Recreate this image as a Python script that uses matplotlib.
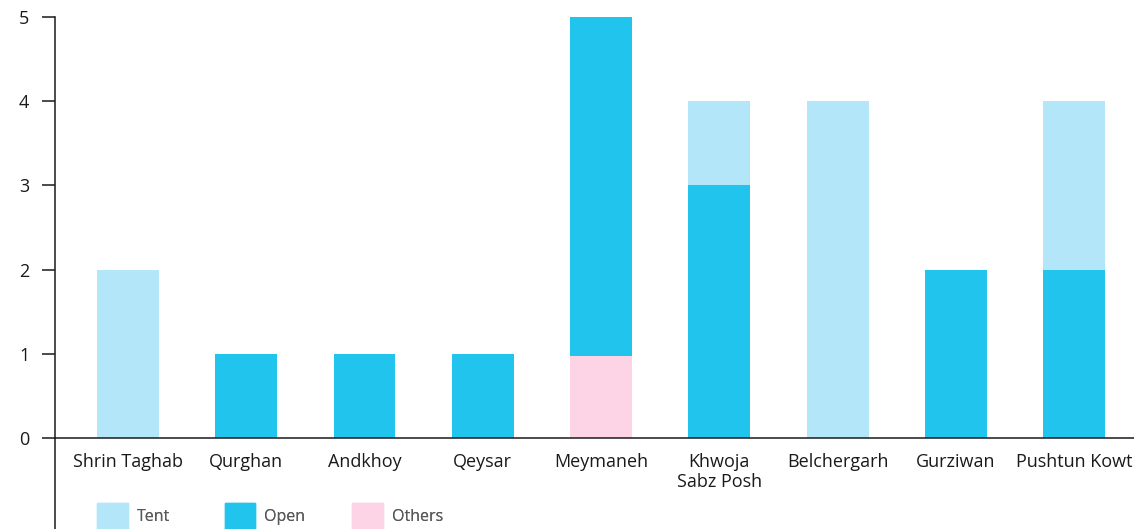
import matplotlib
matplotlib.use("Agg")
import matplotlib.pyplot as plt
from matplotlib.patches import Patch
import numpy as np

plt.rcParams['font.family'] = ['Open Sans', 'DejaVu Sans']

categories = ["Shrin Taghab", "Qurghan", "Andkhoy", "Qeysar", "Meymaneh",
              "Khwoja\nSabz Posh", "Belchergarh", "Gurziwan", "Pushtun Kowt"]
others = [0, 0, 0, 0, 0.97, 0, 0, 0, 0]
open_ = [0, 1, 1, 1, 4.03, 3, 0, 2, 2]
tent = [2, 0, 0, 0, 0, 1, 4, 0, 2]
yticks = [0, 1, 2, 3, 4, 5]
legend_labels = ["Tent", "Open", "Others"]

c_tent = "#B3E6F8"
c_open = "#21C4EC"
c_others = "#FDD3E6"

W, H = 1134, 529
fig = plt.figure(figsize=(W / 100, H / 100), dpi=100)
ax = fig.add_axes([55 / W, 1 - 438 / H, (1134 - 55) / W, (438 - 17) / H])

x = np.arange(len(categories))
bw = 0.524
others_a = np.array(others)
open_a = np.array(open_)
tent_a = np.array(tent)
ax.bar(x, others_a, bw, color=c_others, linewidth=0)
ax.bar(x, open_a, bw, bottom=others_a, color=c_open, linewidth=0)
ax.bar(x, tent_a, bw, bottom=others_a + open_a, color=c_tent, linewidth=0)

ax.set_xlim(-0.617, 8.507)
ax.set_ylim(0, 5)
ax.set_yticks(yticks)
ax.set_xticks(x)
ax.set_xticklabels(categories, fontsize=13, color="#1a1a1a", linespacing=1.1)
ax.tick_params(axis='x', length=0, pad=11)
ax.tick_params(axis='y', length=9.5, width=1.1, pad=9, labelsize=13, labelcolor="#1a1a1a", color="#1a1a1a")

for s in ['top', 'right']:
    ax.spines[s].set_visible(False)
for s in ['left', 'bottom']:
    ax.spines[s].set_linewidth(1.1)
    ax.spines[s].set_color("#1a1a1a")
ax.plot([0, 0], [0, -0.25], transform=ax.transAxes, clip_on=False,
        color="#1a1a1a", linewidth=1.1, solid_capstyle='butt')

colors = [c_tent, c_open, c_others]
for i, (lab, col) in enumerate(zip(legend_labels, colors)):
    x0 = 97 + i * 127.5
    leg = fig.legend(handles=[Patch(color=col, label=lab)], loc='lower left',
                     bbox_to_anchor=(x0 / W, 0), frameon=False, fontsize=11.5,
                     handlelength=1.94, handleheight=2.1, handletextpad=0.55,
                     borderpad=0, borderaxespad=0)
    for t in leg.get_texts():
        t.set_color("#595959")
    fig.add_artist(leg)

fig.savefig("out.png", dpi=100)
